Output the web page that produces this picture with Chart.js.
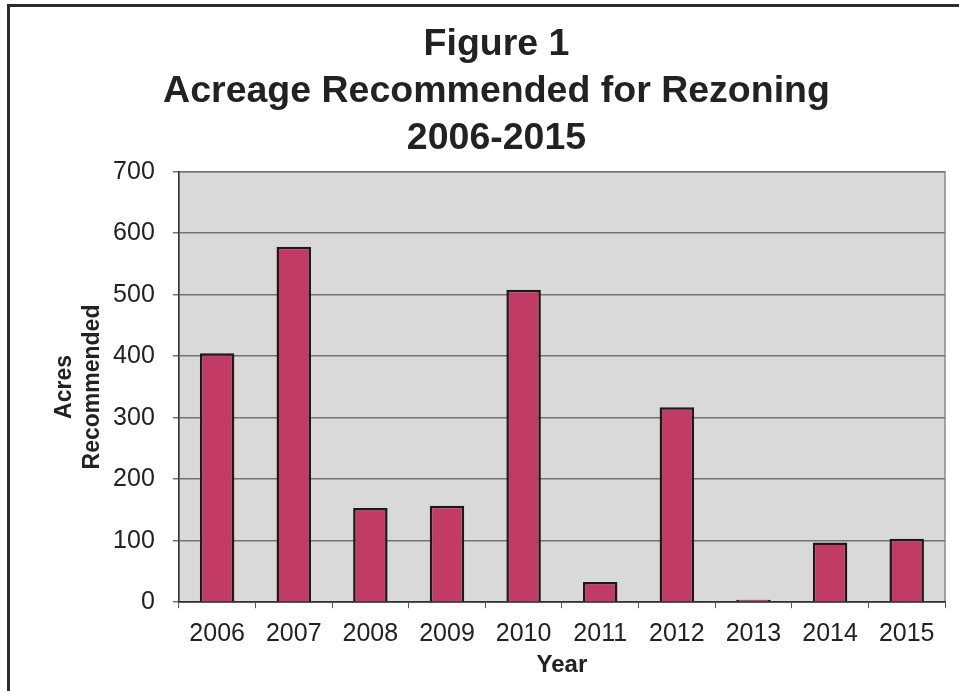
<!DOCTYPE html>
<html>
<head>
<meta charset="utf-8">
<script src="https://cdn.jsdelivr.net/npm/chart.js@4/dist/chart.umd.min.js"></script>
<style>
  html, body { margin: 0; padding: 0; background: #fff; overflow: hidden; }
  #wrap { position: relative; width: 959px; height: 691px; }
  #frame {
    position: absolute; left: 7px; top: 4px; right: 0; bottom: 0;
    border-top: 3px solid #2a2d2a; border-left: 3px solid #2a2d2a;
    pointer-events: none;
  }
</style>
</head>
<body>
<div id="wrap">
  <canvas id="chart"></canvas>
  <div id="frame"></div>
</div>
<script>
const years = ["2006", "2007", "2008", "2009", "2010", "2011", "2012", "2013", "2014", "2015"];
const acres = [405, 578, 153, 157, 508, 33, 317, 4, 97, 103];
const titleLines = ["Figure 1", "Acreage Recommended for Rezoning", "2006-2015"];
const yTitle = ["Acres", "Recommended"];
const xTitle = "Year";

Chart.defaults.font.family = "'Liberation Sans', Arial, sans-serif";
Chart.defaults.color = "#222";

// grey plot background + thin border round the plot area
const plotBackground = {
  id: "plotBackground",
  beforeDraw(chart) {
    const { ctx, chartArea } = chart;
    ctx.save();
    ctx.fillStyle = "#d9d9d9";
    ctx.fillRect(chartArea.left, chartArea.top, chartArea.width, chartArea.height);
    ctx.strokeStyle = "#8a8a8a";
    ctx.lineWidth = 1.5;
    ctx.strokeRect(chartArea.left, chartArea.top, chartArea.width, chartArea.height);
    ctx.restore();
  }
};

new Chart(document.getElementById("chart"), {
  type: "bar",
  data: {
    labels: years,
    datasets: [{
      label: "Acres Recommended",
      data: acres,
      backgroundColor: "#c23b64",
      borderColor: "#1a1a1a",
      borderWidth: 2.5,
      categoryPercentage: 1,
      barPercentage: 0.45
    }]
  },
  options: {
    responsive: true,
    maintainAspectRatio: false,
    animation: false,
    layout: { padding: { top: 21, left: 48, right: 14, bottom: 11 } },
    plugins: {
      legend: { display: false },
      tooltip: { enabled: false },
      title: {
        display: true,
        text: titleLines,
        color: "#222",
        font: { size: 37.5, weight: "bold", lineHeight: 1.26 },
        padding: { top: 0, bottom: 9 }
      }
    },
    scales: {
      x: {
        grid: { display: true, drawOnChartArea: false, drawTicks: true, tickLength: 6, color: "#555", offset: true },
        border: { display: true, color: "#333", width: 1.5 },
        ticks: { font: { size: 25 }, color: "#222", padding: 11 },
        title: {
          display: true,
          text: xTitle,
          color: "#222",
          font: { size: 24, weight: "bold" },
          padding: { top: -9, bottom: 0 }
        }
      },
      y: {
        min: 0,
        max: 700,
        grid: { color: "#737373", lineWidth: 1.5, tickLength: 6, drawTicks: true },
        border: { display: true, color: "#333", width: 1.5 },
        ticks: { stepSize: 100, font: { size: 25 }, color: "#222", padding: 18 },
        title: {
          display: true,
          text: yTitle,
          color: "#222",
          font: { size: 23, weight: "bold", lineHeight: 1.22 },
          padding: { top: 3, bottom: -12 }
        }
      }
    }
  },
  plugins: [plotBackground]
});
</script>
</body>
</html>
